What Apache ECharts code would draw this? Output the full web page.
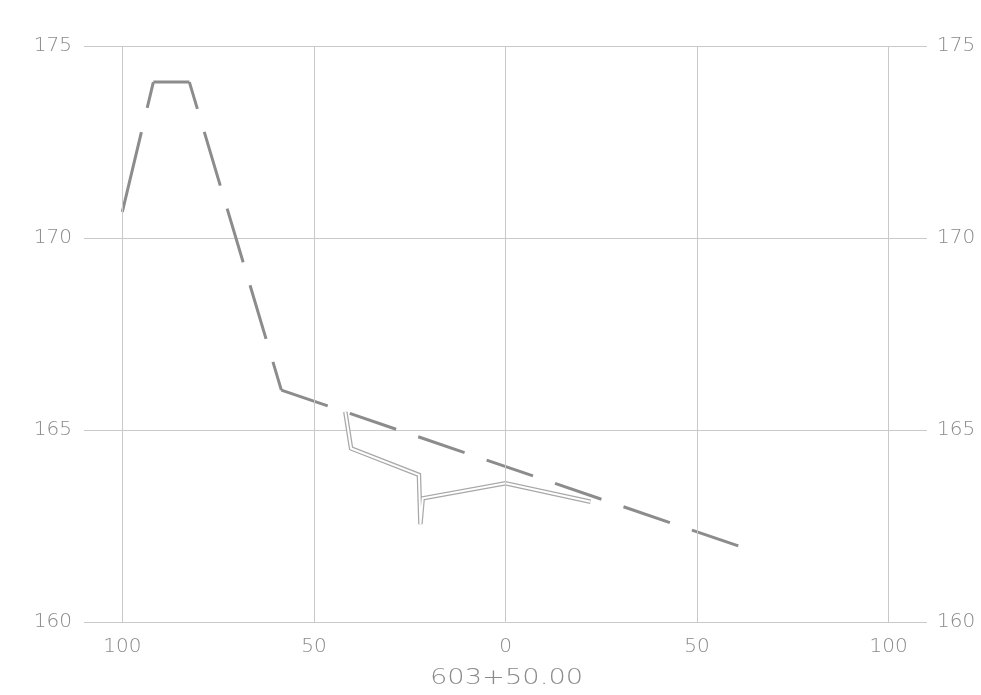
<!DOCTYPE html>
<html>
<head>
<meta charset="utf-8">
<script src="https://cdn.jsdelivr.net/npm/echarts@6/dist/echarts.min.js"></script>
<style>
html,body{margin:0;padding:0;background:#fff;}
#chart{width:981px;height:695px;}
</style>
</head>
<body>
<div id="chart"></div>
<script>
// Offsets (ft) and elevations
const groundOffsets = [-100, -91.9, -82.5, -58.5, 60.8];
const groundElev    = [170.68, 174.06, 174.06, 166.04, 161.98];

const proposedOffsets = [-41.8, -40.3, -22.6, -22.2, -21.6, 0, 22.2];
const proposedElev    = [165.47, 164.52, 163.83, 162.55, 163.22, 163.61, 163.13];

const xGridValues = [-100, -50, 0, 50, 100];
const yTicks = [160, 165, 170, 175];
const stationLabel = '603+50.00';

const pair = (xs, ys) => xs.map((x, i) => [x, ys[i]]);
const groundPts = pair(groundOffsets, groundElev);

const font = {fontFamily: 'DejaVu Sans', fontWeight: 200, color: '#8a8a8a', fontSize: 20};
const gridColor = '#c9c9c9';

// linetype pattern restarts on every segment of the ground polyline (CAD style)
const segDash = [
  {type: [82, 25, 200], offset: 0},
  {type: 'solid', offset: 0},
  {type: [56, 24], offset: 28},
  {type: [49, 23.3], offset: 0}
];

const groundSeries = segDash.map((d, i) => ({
  type: 'line', data: groundPts.slice(i, i + 2), showSymbol: false, silent: true,
  lineStyle: {color: '#8c8c8c', width: 3, type: d.type, dashOffset: d.offset, cap: 'butt'}
}));

const chart = echarts.init(document.getElementById('chart'));
chart.setOption({
  animation: false,
  backgroundColor: '#fff',
  grid: {left: 84, right: 54, top: 46, bottom: 73},
  graphic: [{
    type: 'text', x: 430, y: 668, silent: true,
    style: {text: stationLabel, fontFamily: 'DejaVu Sans', fontWeight: 200, fontSize: 21,
            fill: '#8a8a8a', verticalAlign: 'top', align: 'left'},
    scaleX: 1.3, originX: 0
  }],
  xAxis: {
    type: 'value', min: -110, max: 110, interval: 10,
    axisLine: {show: false}, axisTick: {show: false}, splitLine: {show: false},
    axisLabel: Object.assign({
      margin: 15,
      formatter: v => (v % 50 === 0 ? String(Math.abs(v)) : '')
    }, font)
  },
  yAxis: [{
    type: 'value', min: yTicks[0], max: yTicks[yTicks.length - 1], interval: 5,
    position: 'left',
    axisLine: {show: false}, axisTick: {show: false},
    splitLine: {show: true, lineStyle: {color: gridColor, width: 1}},
    axisLabel: Object.assign({margin: 12}, font)
  }, {
    type: 'value', min: yTicks[0], max: yTicks[yTicks.length - 1], interval: 5,
    position: 'right',
    axisLine: {show: false}, axisTick: {show: false}, splitLine: {show: false},
    axisLabel: Object.assign({margin: 10}, font)
  }],
  series: [
    {
      type: 'line', data: [], silent: true,
      markLine: {
        silent: true, symbol: 'none', label: {show: false},
        lineStyle: {color: gridColor, width: 1, type: 'solid'},
        emphasis: {disabled: true},
        data: xGridValues.map(v => ({xAxis: v}))
      }
    }
  ].concat(groundSeries, [
    {
      type: 'line', data: pair(proposedOffsets, proposedElev), showSymbol: false, silent: true,
      lineStyle: {color: '#a8a8a8', width: 4.5, join: 'miter'}
    },
    {
      type: 'line', data: pair(proposedOffsets, proposedElev), showSymbol: false, silent: true,
      lineStyle: {color: '#ffffff', width: 2, join: 'miter'}
    }
  ])
});
</script>
</body>
</html>
